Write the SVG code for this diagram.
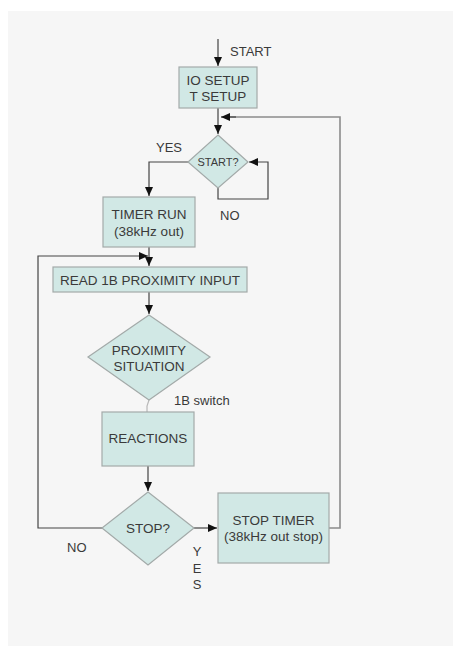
<svg xmlns="http://www.w3.org/2000/svg" width="453" height="646" viewBox="0 0 453 646">
<defs>
<style>
.bg{fill:#f6f6f6}
.box{fill:#d1e8e5;stroke:#a3aaa9;stroke-width:1.2}
.t{font-family:"Liberation Sans",Arial,sans-serif;font-size:13.5px;fill:#3a3a3a;text-anchor:middle}
.ts{font-family:"Liberation Sans",Arial,sans-serif;font-size:11px;fill:#3a3a3a;text-anchor:middle}
.lbl{font-family:"Liberation Sans",Arial,sans-serif;font-size:13px;fill:#3a3a3a}
.c{fill:none;stroke:#444;stroke-width:1.2}
.cg{fill:none;stroke:#8c8c8c;stroke-width:1.6}
.cl{fill:none;stroke:#b8b8b8;stroke-width:1.2}
</style>
<marker id="ah" markerWidth="10" markerHeight="10" refX="9" refY="5" orient="auto" markerUnits="userSpaceOnUse">
<path d="M0,1 L9,5 L0,9 Z" fill="#111"/>
</marker>
</defs>
<rect class="bg" x="8" y="11" width="445" height="635"/>
<g id="connectors">
<path class="c" d="M218,39 V66" marker-end="url(#ah)"/>
<path class="c" d="M218,108 V134" marker-end="url(#ah)"/>
<path class="cg" d="M329,528 H340 V117 H229"/>
<path class="c" d="M236,117 H221" marker-end="url(#ah)"/>
<path class="c" d="M218,188 V199 H268 V162 H249" marker-end="url(#ah)"/>
<path class="c" d="M188,162 H149 V196" marker-end="url(#ah)"/>
<path class="c" d="M149,247 V266" marker-end="url(#ah)"/>
<path class="c" d="M102,528 H38 V256 H148" marker-end="url(#ah)"/>
<path class="c" d="M149,292 V314" marker-end="url(#ah)"/>
<path class="cl" d="M149,400 L147,406 V412"/>
<path class="c" d="M148,466 V491" marker-end="url(#ah)"/>
<path class="c" d="M194,528 H217" marker-end="url(#ah)"/>
</g>
<g id="start-label"><text class="lbl" x="230" y="56">START</text></g>
<g id="io-setup">
<rect class="box" x="179" y="67" width="78" height="41"/>
<text class="t" x="218" y="85">IO SETUP</text>
<text class="t" x="218" y="101">T SETUP</text>
</g>
<g id="start-q">
<polygon class="box" points="218,135 248,162 218,188 188,162"/>
<text class="ts" x="218" y="166">START?</text>
</g>
<g id="labels-start">
<text class="lbl" x="156" y="152">YES</text>
<text class="lbl" x="220" y="220">NO</text>
</g>
<g id="timer-run">
<rect class="box" x="103" y="197" width="92" height="50"/>
<text class="t" x="149" y="219">TIMER RUN</text>
<text class="t" x="149" y="236">(38kHz out)</text>
</g>
<g id="read-input">
<rect class="box" x="53" y="267" width="194" height="25"/>
<text class="t" x="150" y="284.5">READ 1B PROXIMITY INPUT</text>
</g>
<g id="proximity">
<polygon class="box" points="149,315 210,357 149,400 88,357"/>
<text class="t" x="149" y="355">PROXIMITY</text>
<text class="t" x="149" y="371">SITUATION</text>
</g>
<g id="switch-label"><text class="lbl" x="174" y="405">1B switch</text></g>
<g id="reactions">
<rect class="box" x="102" y="412" width="92" height="54"/>
<text class="t" x="148" y="443">REACTIONS</text>
</g>
<g id="stop-q">
<polygon class="box" points="148,492 194,528 148,565 102,528"/>
<text class="t" x="148" y="533">STOP?</text>
</g>
<g id="labels-stop">
<text class="lbl" x="67" y="552">NO</text>
<text class="lbl" x="197" y="556" text-anchor="middle">Y</text>
<text class="lbl" x="197" y="573" text-anchor="middle">E</text>
<text class="lbl" x="197" y="589" text-anchor="middle">S</text>
</g>
<g id="stop-timer">
<rect class="box" x="218" y="493" width="111" height="70"/>
<text class="t" x="273.5" y="525">STOP TIMER</text>
<text class="t" x="273.5" y="541">(38kHz out stop)</text>
</g>
</svg>
